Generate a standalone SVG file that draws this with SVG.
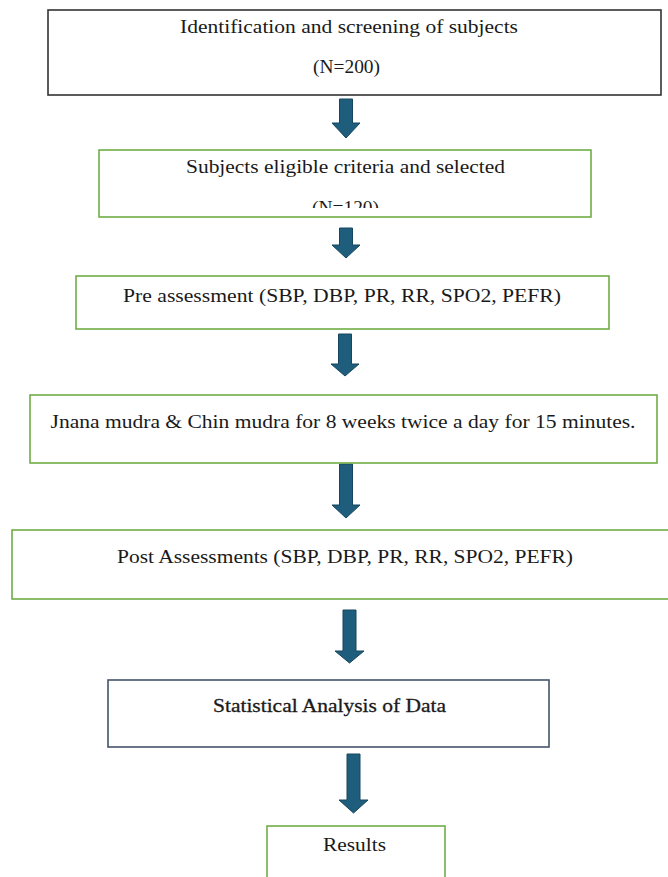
<svg xmlns="http://www.w3.org/2000/svg" width="668" height="877" viewBox="0 0 668 877">
<style>
.bg{fill:#ffffff}
.box{fill:#ffffff;stroke-width:1.6}
.green{stroke:#70ad47}
.dark{stroke:#333333}
.slate{stroke:#44546a}
.t{font-family:"Liberation Serif","Times New Roman",serif;font-size:19px;fill:#1a1a1a;text-anchor:middle}
.arrow{fill:#1e5d7c;stroke:#16475f;stroke-width:1}
</style>
<defs>
<clipPath id="clip2"><rect x="99" y="150" width="492" height="58"/></clipPath>
</defs>
<rect class="bg" x="0" y="0" width="668" height="877"/>
<g id="connectors">
<polygon class="arrow" points="339.5,99 352.5,99 352.5,123 360,123 346,138 332,123 339.5,123"/>
<polygon class="arrow" points="339.5,228 352.5,228 352.5,245 360,245 346,258 332,245 339.5,245"/>
<polygon class="arrow" points="338.5,334 351.5,334 351.5,364 359,364 345,376 331,364 338.5,364"/>
<polygon class="arrow" points="339.5,464 352.5,464 352.5,505 360,505 346,518 332,505 339.5,505"/>
<polygon class="arrow" points="343,610 356,610 356,651 364,651 349.5,663 335,651 343,651"/>
<polygon class="arrow" points="347,754 360,754 360,800 368,800 353.5,813 339,800 347,800"/>
</g>
<g id="node1">
<rect class="box dark" x="48" y="10" width="613" height="85"/>
<text class="t" x="349" y="33" textLength="338" lengthAdjust="spacingAndGlyphs">Identification and screening of subjects</text>
<text class="t" x="346.5" y="73" textLength="67" lengthAdjust="spacingAndGlyphs">(N=200)</text>
</g>
<g id="node2">
<rect class="box green" x="99" y="150" width="492" height="67"/>
<text class="t" x="345.5" y="173" textLength="319" lengthAdjust="spacingAndGlyphs">Subjects eligible criteria and selected</text>
<text class="t" x="345.5" y="214" textLength="67" lengthAdjust="spacingAndGlyphs" clip-path="url(#clip2)">(N=120)</text>
</g>
<g id="node3">
<rect class="box green" x="76" y="276" width="533" height="53"/>
<text class="t" x="342" y="302" textLength="438" lengthAdjust="spacingAndGlyphs">Pre assessment (SBP, DBP, PR, RR, SPO2, PEFR)</text>
</g>
<g id="node4">
<rect class="box green" x="30" y="395" width="627" height="68"/>
<text class="t" x="343" y="428" textLength="585" lengthAdjust="spacingAndGlyphs">Jnana mudra &amp; Chin mudra for 8 weeks twice a day for 15 minutes.</text>
</g>
<g id="node5">
<rect class="box green" x="12" y="530" width="670" height="69"/>
<text class="t" x="345" y="563" textLength="456" lengthAdjust="spacingAndGlyphs">Post Assessments (SBP, DBP, PR, RR, SPO2, PEFR)</text>
</g>
<g id="node6">
<rect class="box slate" x="108" y="680" width="441" height="67"/>
<text class="t" x="329.5" y="712" textLength="233" lengthAdjust="spacingAndGlyphs" stroke="#1a1a1a" stroke-width="0.3">Statistical Analysis of Data</text>
</g>
<g id="node7">
<rect class="box green" x="267" y="826" width="178" height="60"/>
<text class="t" x="354.5" y="851" textLength="63" lengthAdjust="spacingAndGlyphs">Results</text>
</g>
</svg>
